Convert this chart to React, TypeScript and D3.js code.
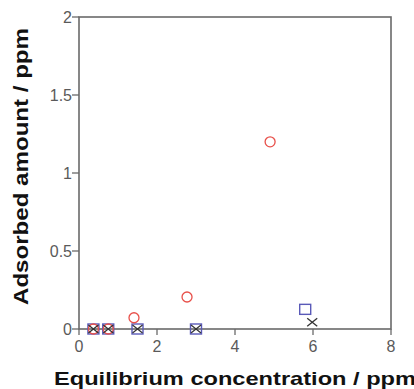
import React from 'react';
import * as d3 from 'd3';

// Red circles
const circleX = [0.37, 0.75, 1.41, 2.77, 4.9];
const circleY = [0, 0, 0.072, 0.205, 1.2];
// Blue squares
const squareX = [0.37, 0.75, 1.5, 3.0, 5.8];
const squareY = [0, 0, 0, 0, 0.126];
// Black crosses
const crossX = [0.37, 0.75, 1.5, 3.0, 5.98];
const crossY = [0, 0, 0, 0, 0.043];

const xTicks = [0, 2, 4, 6, 8];
const yTicks = [0, 0.5, 1, 1.5, 2];

const W = 414;
const H = 389;
const margin = { top: 17, right: 23, bottom: 60, left: 79 };

const App: React.FC = () => {
  const innerW = W - margin.left - margin.right;
  const innerH = H - margin.top - margin.bottom;
  const x = d3.scaleLinear().domain([0, 8]).range([0, innerW]);
  const y = d3.scaleLinear().domain([0, 2]).range([innerH, 0]);
  const axisColor = '#6a6a6a';
  const font = 'Arial, "Liberation Sans", sans-serif';

  return (
    <svg width={W} height={H} style={{ position: 'absolute', left: 0, top: 0, background: '#fff' }}>
      <g transform={`translate(${margin.left},${margin.top})`}>
        <rect x={0} y={0} width={innerW} height={innerH} fill="none" stroke={axisColor} strokeWidth={1.6} />

        {yTicks.map(t => (
          <g key={t} transform={`translate(0,${y(t)})`}>
            <line x1={-7} x2={0} stroke={axisColor} strokeWidth={1.3} />
            <text x={-7} dy="0.36em" textAnchor="end" fontFamily={font} fontSize={16} fill="#5a5a5a">
              {t}
            </text>
          </g>
        ))}

        {xTicks.map(t => (
          <g key={t} transform={`translate(${x(t)},${innerH})`}>
            <line y1={0} y2={6} stroke={axisColor} strokeWidth={1.3} />
            <text y={23} textAnchor="middle" fontFamily={font} fontSize={16} fill="#5a5a5a">
              {t}
            </text>
          </g>
        ))}

        {/* markers */}
        {squareX.map((v, i) => (
          <rect
            key={'s' + i}
            x={x(v) - 5.5}
            y={y(squareY[i]) - 5}
            width={11}
            height={10}
            fill="none"
            stroke="#5a5ab8"
            strokeWidth={1.4}
          />
        ))}
        {circleX.map((v, i) => (
          <circle key={'c' + i} cx={x(v)} cy={y(circleY[i])} r={5} fill="none" stroke="#e8504a" strokeWidth={1.3} />
        ))}
        {crossX.map((v, i) => (
          <g key={'x' + i} transform={`translate(${x(v)},${y(crossY[i])})`} stroke="#333" strokeWidth={1.3}>
            <line x1={-5} y1={-4} x2={5} y2={4} />
            <line x1={-5} y1={4} x2={5} y2={-4} />
          </g>
        ))}
      </g>

      <text
        x={54}
        y={385}
        textLength={362}
        lengthAdjust="spacingAndGlyphs"
        fontFamily={font}
        fontWeight="bold"
        fontSize={19}
        fill="#111"
      >
        Equilibrium concentration / ppm
      </text>
      <text
        transform={`translate(28,305) rotate(-90)`}
        textLength={277}
        lengthAdjust="spacingAndGlyphs"
        fontFamily={font}
        fontWeight="bold"
        fontSize={20}
        fill="#111"
      >
        Adsorbed amount / ppm
      </text>
    </svg>
  );
};

export default App;
